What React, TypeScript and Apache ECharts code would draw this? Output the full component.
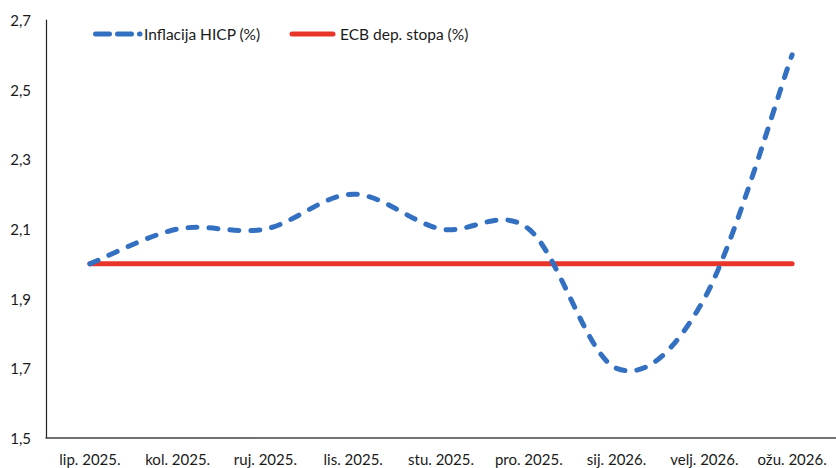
import React, { useEffect, useRef } from "react";
import * as echarts from "echarts";

const categories = [
  "lip. 2025.",
  "kol. 2025.",
  "ruj. 2025.",
  "lis. 2025.",
  "stu. 2025.",
  "pro. 2025.",
  "sij. 2026.",
  "velj. 2026.",
  "ožu. 2026.",
];
const inflationHICP = [2.0, 2.1, 2.1, 2.2, 2.1, 2.1, 1.7, 1.9, 2.6];
const ecbDepositRate = [2.0, 2.0, 2.0, 2.0, 2.0, 2.0, 2.0, 2.0, 2.0];
const yTicks = [1.5, 1.7, 1.9, 2.1, 2.3, 2.5, 2.7];
const seriesNames = ["Inflacija HICP (%)", "ECB dep. stopa (%)"];

const FONT = "Lato, 'Open Sans', 'Noto Sans', sans-serif";
const BLUE = "#3370C2";
const RED = "#E8352A";

// Excel-style (Catmull-Rom) smoothed path through the points, computed in pixel space
function smoothPath(pts: number[][]): string {
  const n = pts.length;
  if (n === 0) return "";
  let d = `M${pts[0][0]},${pts[0][1]}`;
  for (let i = 0; i < n - 1; i++) {
    const p0 = pts[Math.max(i - 1, 0)];
    const p1 = pts[i];
    const p2 = pts[i + 1];
    const p3 = pts[Math.min(i + 2, n - 1)];
    const c1x = p1[0] + (p2[0] - p0[0]) / 6;
    const c1y = p1[1] + (p2[1] - p0[1]) / 6;
    const c2x = p2[0] - (p3[0] - p1[0]) / 6;
    const c2y = p2[1] - (p3[1] - p1[1]) / 6;
    d += ` C${c1x},${c1y} ${c2x},${c2y} ${p2[0]},${p2[1]}`;
  }
  return d;
}

export default function App() {
  const ref = useRef<HTMLDivElement>(null);
  useEffect(() => {
    if (!ref.current) return;
    const chart = echarts.init(ref.current, null, { renderer: "svg" });
    chart.setOption({
      animation: false,
      backgroundColor: "#ffffff",
      textStyle: { fontFamily: FONT },
      grid: { left: 46, top: 20, width: 792, height: 418, containLabel: false },
      xAxis: {
        type: "category",
        data: categories,
        boundaryGap: true,
        axisLine: { show: true, lineStyle: { color: "#444444", width: 1.5 } },
        axisTick: { show: false },
        axisLabel: { color: "#1a1a1a", fontSize: 15, fontFamily: FONT, margin: 13, interval: 0 },
        splitLine: { show: false },
      },
      yAxis: {
        type: "value",
        min: 1.5,
        max: 2.7,
        axisLine: { show: true, lineStyle: { color: "#222222", width: 1.2 } },
        axisTick: { show: false },
        splitLine: { show: false },
        axisLabel: {
          customValues: yTicks,
          color: "#1a1a1a",
          fontSize: 15,
          fontFamily: FONT,
          margin: 15,
          formatter: (v: number) => v.toFixed(1).replace(".", ","),
        },
      },
      graphic: [
        {
          type: "line",
          shape: { x1: 95.5, y1: 34, x2: 140, y2: 34 },
          style: { stroke: BLUE, lineWidth: 5, lineDash: [14, 8], lineCap: "round" },
        },
        {
          type: "text",
          x: 144,
          y: 34,
          style: {
            text: seriesNames[0],
            fontSize: 15.5,
            fontFamily: FONT,
            fill: "#1a1a1a",
            verticalAlign: "middle",
          },
        },
        {
          type: "line",
          shape: { x1: 292, y1: 34, x2: 333, y2: 34 },
          style: { stroke: RED, lineWidth: 5, lineCap: "round" },
        },
        {
          type: "text",
          x: 340,
          y: 34,
          style: {
            text: seriesNames[1],
            fontSize: 15.5,
            fontFamily: FONT,
            fill: "#1a1a1a",
            verticalAlign: "middle",
          },
        },
      ],
      series: [
        {
          name: seriesNames[1],
          type: "line",
          data: ecbDepositRate,
          symbol: "none",
          showSymbol: false,
          z: 2,
          lineStyle: { color: RED, width: 5, cap: "round" },
          itemStyle: { color: RED },
        },
        {
          name: seriesNames[0],
          type: "custom",
          z: 3,
          data: [[0, inflationHICP[0]]],
          encode: { x: 0, y: 1 },
          renderItem: (params: any, api: any) => {
            const pts = inflationHICP.map((v, i) => api.coord([i, v]));
            return {
              type: "path",
              shape: { pathData: smoothPath(pts) },
              style: {
                fill: "none",
                stroke: BLUE,
                lineWidth: 5,
                lineDash: [9, 12],
                lineCap: "round",
              },
            };
          },
        },
      ],
    });
    return () => chart.dispose();
  }, []);
  return <div ref={ref} style={{ width: 836, height: 468, position: "absolute", left: 0, top: 0 }} />;
}
